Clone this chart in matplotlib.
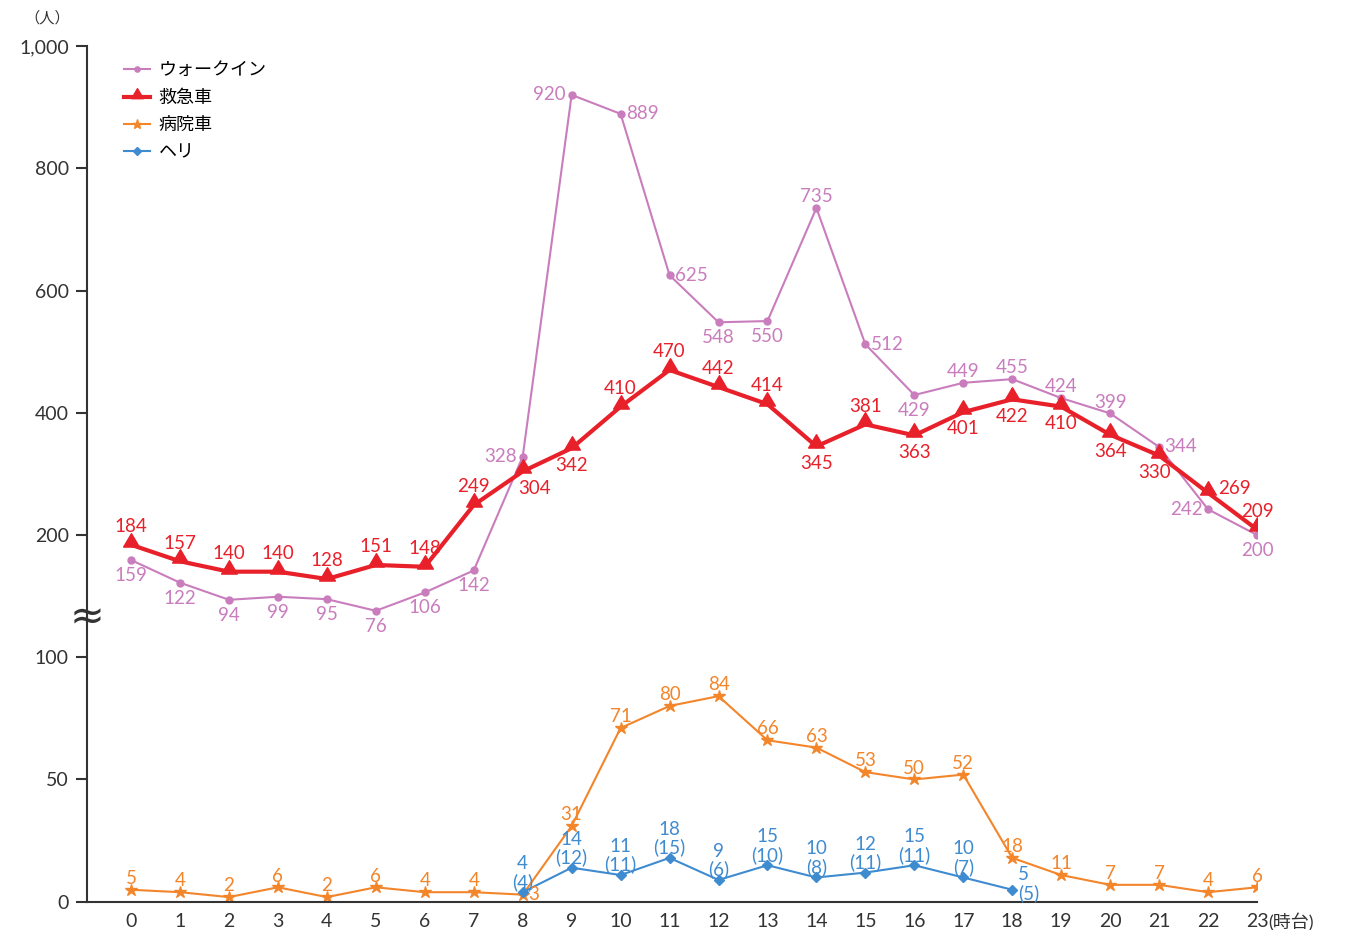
import numpy as np
import matplotlib
matplotlib.use("Agg")
import matplotlib.pyplot as plt
from matplotlib.path import Path

plt.rcParams['font.family'] = ['Lato', 'Noto Sans CJK JP', 'DejaVu Sans']

# データ
hours = list(range(24))
walkin = [159, 122, 94, 99, 95, 76, 106, 142, 328, 920, 889, 625,
          548, 550, 735, 512, 429, 449, 455, 424, 399, 344, 242, 200]
ambulance = [184, 157, 140, 140, 128, 151, 148, 249, 304, 342, 410, 470,
             442, 414, 345, 381, 363, 401, 422, 410, 364, 330, 269, 209]
hospital = [5, 4, 2, 6, 2, 6, 4, 4, 3, 31, 71, 80,
            84, 66, 63, 53, 50, 52, 18, 11, 7, 7, 4, 6]
heli_hours = list(range(8, 19))
heli = [4, 14, 11, 18, 9, 15, 10, 12, 15, 10, 5]
heli_prev = [4, 12, 11, 15, 6, 10, 8, 11, 11, 7, 5]

# ラベル位置 (a=上, b=下, l=左, r=右, br=右下, bl=左下, ar=右)
walkin_pos = ['b'] * 8 + ['l', 'l', 'r', 'r', 'b', 'b', 'a', 'r', 'b',
                          'a', 'a', 'a', 'a', 'r', 'l', 'b']
amb_pos = ['a'] * 8 + ['br', 'b', 'a', 'a', 'a', 'a', 'b', 'a', 'b',
                       'b', 'b', 'b', 'b', 'bl', 'ar', 'a']
hosp_pos = ['a'] * 8 + ['r'] + ['a'] * 15
heli_pos = ['a'] * 10 + ['r']

c_walk = '#c97dbd'
c_amb = '#e8202a'
c_hosp = '#f3852a'
c_heli = '#3f8bd0'
c_axis = '#333333'

# 底辺が点に乗る三角マーカー
tri = Path([(-1, -0.2), (1, -0.2), (0, 1.5), (-1, -0.2)],
           [Path.MOVETO, Path.LINETO, Path.LINETO, Path.CLOSEPOLY])


def annotate(ax, xs, ys, texts, pos, color, up, down, fs=13.5):
    offsets = {'a': (0, up, 'center', 'bottom'),
               'b': (0, -down, 'center', 'top'),
               'l': (-4, 0, 'right', 'center'),
               'r': (4, 0, 'left', 'center'),
               'br': (-3, -down, 'left', 'top'),
               'bl': (-3, -down, 'center', 'top'),
               'ar': (7, 3, 'left', 'center')}
    for x, y, t, p in zip(xs, ys, texts, pos):
        dx, dy, ha, va = offsets[p]
        if p == 'r' and '\n' in t:
            dy = 4
        ax.annotate(t, (x, y), xytext=(dx, dy), textcoords='offset points',
                    ha=ha, va=va, color=color, fontsize=fs,
                    linespacing=1.05, annotation_clip=False)


fig = plt.figure(figsize=(13.45, 9.3), dpi=100)
W, H = 1345, 930
left, right = 87 / W, 1257 / W
brk = 1 - 617 / H
ax_top = fig.add_axes([left, brk, right - left, (1 - 46 / H) - brk])
ax_bot = fig.add_axes([left, 1 - 902 / H, right - left, brk - (1 - 902 / H)])

for ax in (ax_top, ax_bot):
    ax.set_xlim(-0.9, 23)
    ax.patch.set_visible(False)
    for s in ('top', 'right'):
        ax.spines[s].set_visible(False)
    ax.spines['left'].set_color(c_axis)
    ax.spines['left'].set_linewidth(1.5)
    ax.tick_params(axis='y', direction='out', length=8, width=1.5,
                   color=c_axis, labelsize=14, labelcolor=c_axis, pad=5)

# 上段
ax_top.set_ylim(65.85, 1000)
ax_top.spines['bottom'].set_visible(False)
ax_top.set_xticks([])
ax_top.set_yticks([200, 400, 600, 800, 1000])
ax_top.set_yticklabels(['200', '400', '600', '800', '1,000'])

ax_top.plot(hours, walkin, color=c_walk, lw=1.5, marker='o', ms=5,
            label='ウォークイン', zorder=2)
ax_top.plot(hours, ambulance, color=c_amb, lw=3, marker=tri, ms=17,
            label='救急車', zorder=3)
annotate(ax_top, hours, walkin, [str(v) for v in walkin], walkin_pos,
         c_walk, 2, 5)
annotate(ax_top, hours, ambulance, [str(v) for v in ambulance], amb_pos,
         c_amb, 7, 6)

# 下段
ax_bot.set_ylim(0, 116.3)
ax_bot.spines['bottom'].set_color(c_axis)
ax_bot.spines['bottom'].set_linewidth(1.5)
ax_bot.set_yticks([0, 50, 100])
ax_bot.set_xticks(hours)
ax_bot.set_xticklabels([str(h) for h in hours])
ax_bot.tick_params(axis='x', length=0, labelsize=14, labelcolor=c_axis,
                   pad=8)

l3, = ax_bot.plot(hours, hospital, color=c_hosp, lw=1.5, marker='*', ms=9,
                  label='病院車', zorder=2)
l4, = ax_bot.plot(heli_hours, heli, color=c_heli, lw=1.5, marker='D', ms=5.5,
                  label='ヘリ', zorder=3)
annotate(ax_bot, hours, hospital, [str(v) for v in hospital], hosp_pos,
         c_hosp, 2, 3)
heli_txt = [f'{a}\n({b})' for a, b in zip(heli, heli_prev)]
annotate(ax_bot, heli_hours, heli, heli_txt, heli_pos, c_heli, 1, 2)
ax_bot.annotate('(時台)', (23, 0), xytext=(8, -8), textcoords='offset points',
                ha='left', va='top', fontsize=13, color=c_axis,
                annotation_clip=False)

# 凡例
h1, lab1 = ax_top.get_legend_handles_labels()
ax_top.legend(h1 + [l3, l4], lab1 + ['病院車', 'ヘリ'], loc='upper left',
              bbox_to_anchor=(0.018, 1.0), frameon=False, fontsize=13,
              handlelength=1.4, handletextpad=0.5, labelspacing=0.62,
              markerscale=0.75)

# 単位・省略記号
fig.text(47 / W, 1 - 18 / H, '（人）', fontsize=11, color=c_axis,
         ha='center', va='center')
fig.text(left, brk, '≈', fontsize=30, color=c_axis, ha='center',
         va='center', family='DejaVu Sans')

fig.savefig('out.png', dpi=100)
